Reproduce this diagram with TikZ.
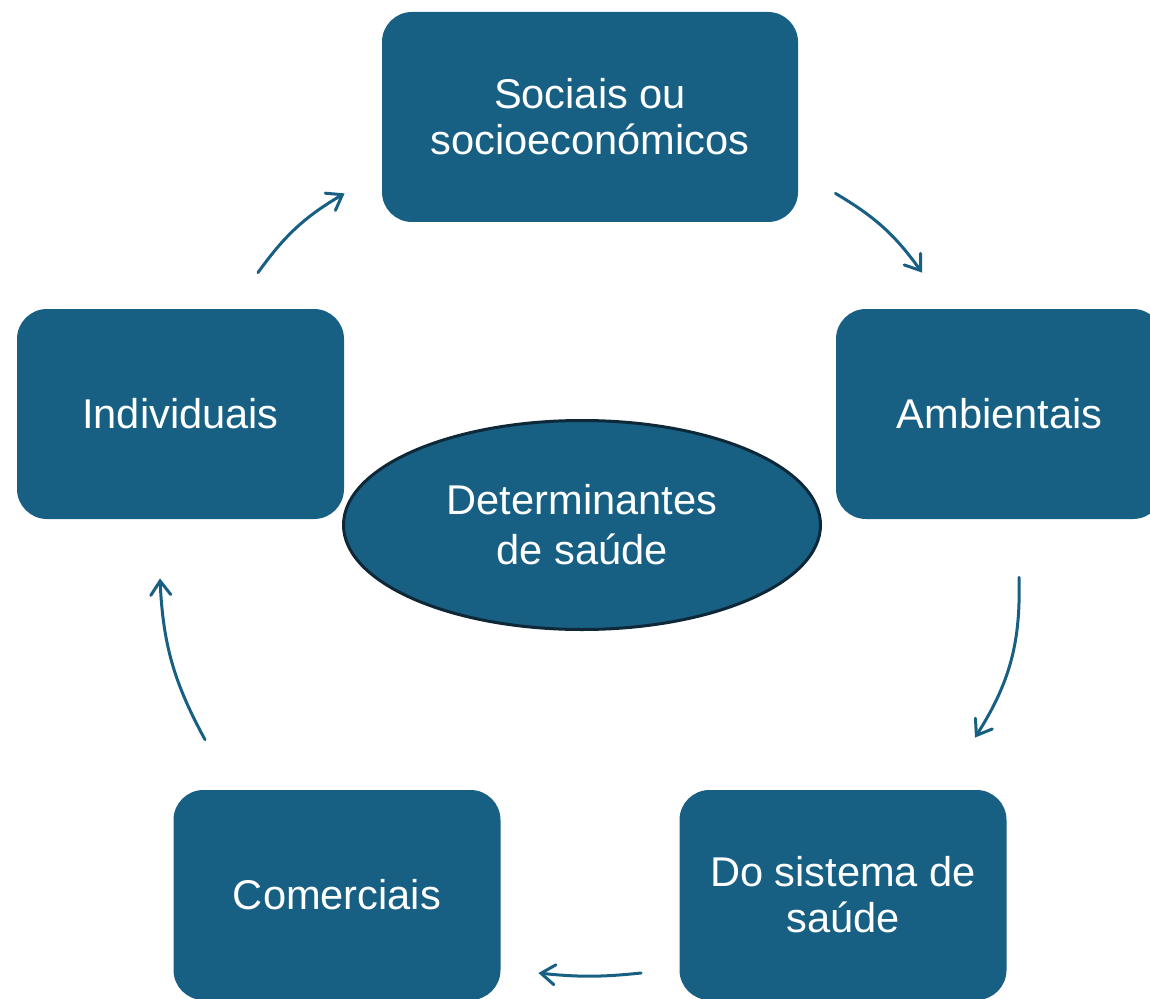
\documentclass[tikz,border=0pt]{standalone}
\usepackage{fontspec}
\setmainfont{Liberation Sans}
\usepackage{tikz}
\usetikzlibrary{arrows.meta,shapes,positioning}
\definecolor{petrol}{RGB}{23,96,131}
\definecolor{inkdark}{RGB}{14,40,56}
\tikzstyle{arrow}=[draw,petrol,line width=1.5pt,line cap=round,
  -{Straight Barb[length=7pt,width=10pt,line cap=round]}]
\tikzstyle{block} =
  [rectangle, fill=petrol, text=white, align=center,
   minimum width=163.5pt, minimum height=105pt, rounded corners=15pt,
   font=\fontsize{20.8}{23}\selectfont]
\tikzstyle{cloud} =
  [ellipse, draw=inkdark, line width=1.5pt, fill=petrol, text=white,
   align=center, inner sep=0pt, minimum width=238.5pt, minimum height=104.5pt,
   font=\fontsize{20.8}{25}\selectfont]

\begin{document}
\begin{tikzpicture}
  \clip (0,0) rectangle (575pt,499pt);
  \node [block, minimum width=208pt] (soc) at (295pt,440.5pt) {Sociais ou\\socioeconómicos};
  \node [block] (ind) at (90.25pt,292pt) {Individuais};
  \node [block] (amb) at (499.75pt,292pt) {Ambientais};
  \node [block] (sis) at (421.5pt,51.5pt) {Do sistema de\\saúde};
  \node [block] (com) at (168.5pt,51.5pt) {Comerciais};
  \node [cloud] (det) at (291pt,236.5pt) {Determinantes\\de saúde};

  \draw [arrow] ([shift={(38.75pt,18pt)}]ind.north) to [bend left=12]
    ([shift={(-18.5pt,14.5pt)}]soc.south west);
  \draw [arrow] ([shift={(18.5pt,14.5pt)}]soc.south east) to [bend left=12]
    ([shift={(-38.75pt,18pt)}]amb.north);
  \draw [arrow] ([shift={(9.75pt,-29pt)}]amb.south) to [bend left=17]
    ([shift={(66pt,26pt)}]sis.north);
  \draw [arrow] ([shift={(-19pt,-39pt)}]sis.west) to [bend left=6]
    ([shift={(18.75pt,-39pt)}]com.east);
  \draw [arrow] ([shift={(-66pt,25pt)}]com.north) to [bend left=13]
    ([shift={(-10.25pt,-29.5pt)}]ind.south);
\end{tikzpicture}
\end{document}
